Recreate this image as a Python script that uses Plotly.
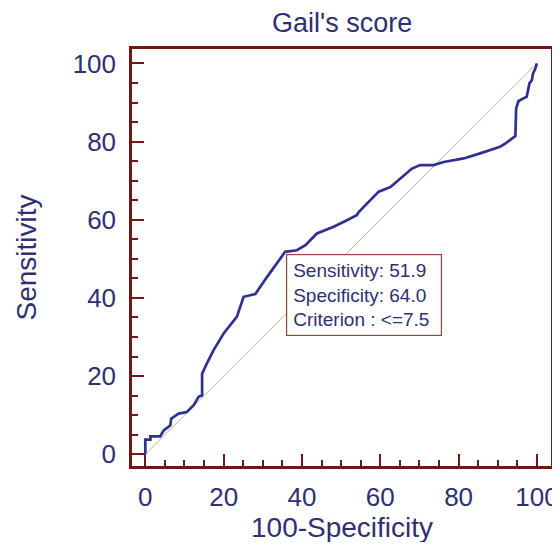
import plotly.graph_objects as go

# ROC curve for Gail's score (100-Specificity vs Sensitivity)
fpr = [0, 0, 1.3, 1.3, 3.8, 4.7, 6.4, 6.6, 8.5, 10.6, 12.3, 13.6, 14.5, 14.5, 15.7, 17.4,
       20.0, 23.4, 25.1, 28.1, 31.1, 35.7, 38.7, 40.9, 43.8, 48.1, 51.5, 54.0, 54.5, 56.6,
       59.6, 62.6, 65.1, 68.1, 70.2, 73.6, 76.2, 81.3, 85.5, 90.6, 91.9, 94.5, 94.7, 95.3,
       97.4, 98.1, 98.7, 99.0, 99.6, 100]
tpr = [0, 3.75, 3.75, 4.6, 4.6, 6.1, 7.4, 9.1, 10.4, 10.8, 12.5, 14.7, 15.1, 20.6, 23.2, 26.6,
       30.9, 35.2, 40.3, 41.0, 45.4, 51.8, 52.2, 53.5, 56.5, 58.2, 59.9, 61.2, 62.0, 64.2,
       67.2, 68.4, 70.6, 73.1, 74.0, 74.0, 74.8, 75.7, 77.0, 78.7, 79.5, 81.4, 88.5, 90.4,
       91.5, 94.9, 95.7, 97.4, 98.7, 100]
diag = [0, 100]
tick_vals = [0, 20, 40, 60, 80, 100]
title_text = "Gail's score"
x_title = "100-Specificity"
y_title = "Sensitivity"
box_lines = ["Sensitivity: 51.9", "Specificity: 64.0", "Criterion : <=7.5"]

FRAME = "#6E1A14"
NAVY = "#2F2F72"
FONT = "Liberation Sans, Arial, sans-serif"

fig = go.Figure()
fig.add_trace(go.Scatter(x=diag, y=diag, mode="lines",
                         line=dict(color="#CFAE98", width=1), hoverinfo="skip"))
fig.add_trace(go.Scatter(x=fpr, y=tpr, mode="lines",
                         line=dict(color="#2E3192", width=2.7)))

axis_common = dict(
    showline=True, linecolor=FRAME, linewidth=2.5, mirror=True,
    ticks="inside", ticklen=12, tickwidth=2, tickcolor=FRAME,
    tickvals=tick_vals, showgrid=False, zeroline=False,
    tickfont=dict(family=FONT, size=26, color=NAVY),
    minor=dict(dtick=5, ticks="inside", ticklen=6.5, tickwidth=1.5, tickcolor=FRAME, showgrid=False),
)

fig.update_layout(
    width=552, height=534,
    margin=dict(l=124, r=9, t=41, b=76),
    paper_bgcolor="white", plot_bgcolor="white",
    showlegend=False,
    xaxis=dict(range=[-3.4, 103.6], automargin=False, ticklabelstandoff=6, **axis_common),
    yaxis=dict(range=[-3.0, 103.7], automargin=False, ticklabelstandoff=8, **axis_common),
    annotations=[
        dict(text=title_text, xref="paper", yref="paper", x=0.5, y=1.0, yshift=26,
             showarrow=False, font=dict(family=FONT, size=27, color=NAVY),
             xanchor="center", yanchor="middle"),
        dict(text=x_title, xref="paper", yref="paper", x=0.5, y=0.0, yshift=-61,
             showarrow=False, font=dict(family=FONT, size=28, color=NAVY),
             xanchor="center", yanchor="middle"),
        dict(text=y_title, xref="paper", yref="paper", x=0.0, y=0.5, xshift=-106,
             textangle=-90, showarrow=False, font=dict(family=FONT, size=28, color=NAVY),
             xanchor="center", yanchor="middle"),
        dict(text="<br>".join(box_lines), xref="x", yref="y", x=36, y=51.2,
             xanchor="left", yanchor="top", align="left", valign="middle", showarrow=False,
             width=142, height=68,
             font=dict(family=FONT, size=19, color=NAVY),
             bordercolor="#8B4A3A", borderwidth=1.2, borderpad=6, bgcolor="white"),
    ],
)

fig.write_html("out.html")
